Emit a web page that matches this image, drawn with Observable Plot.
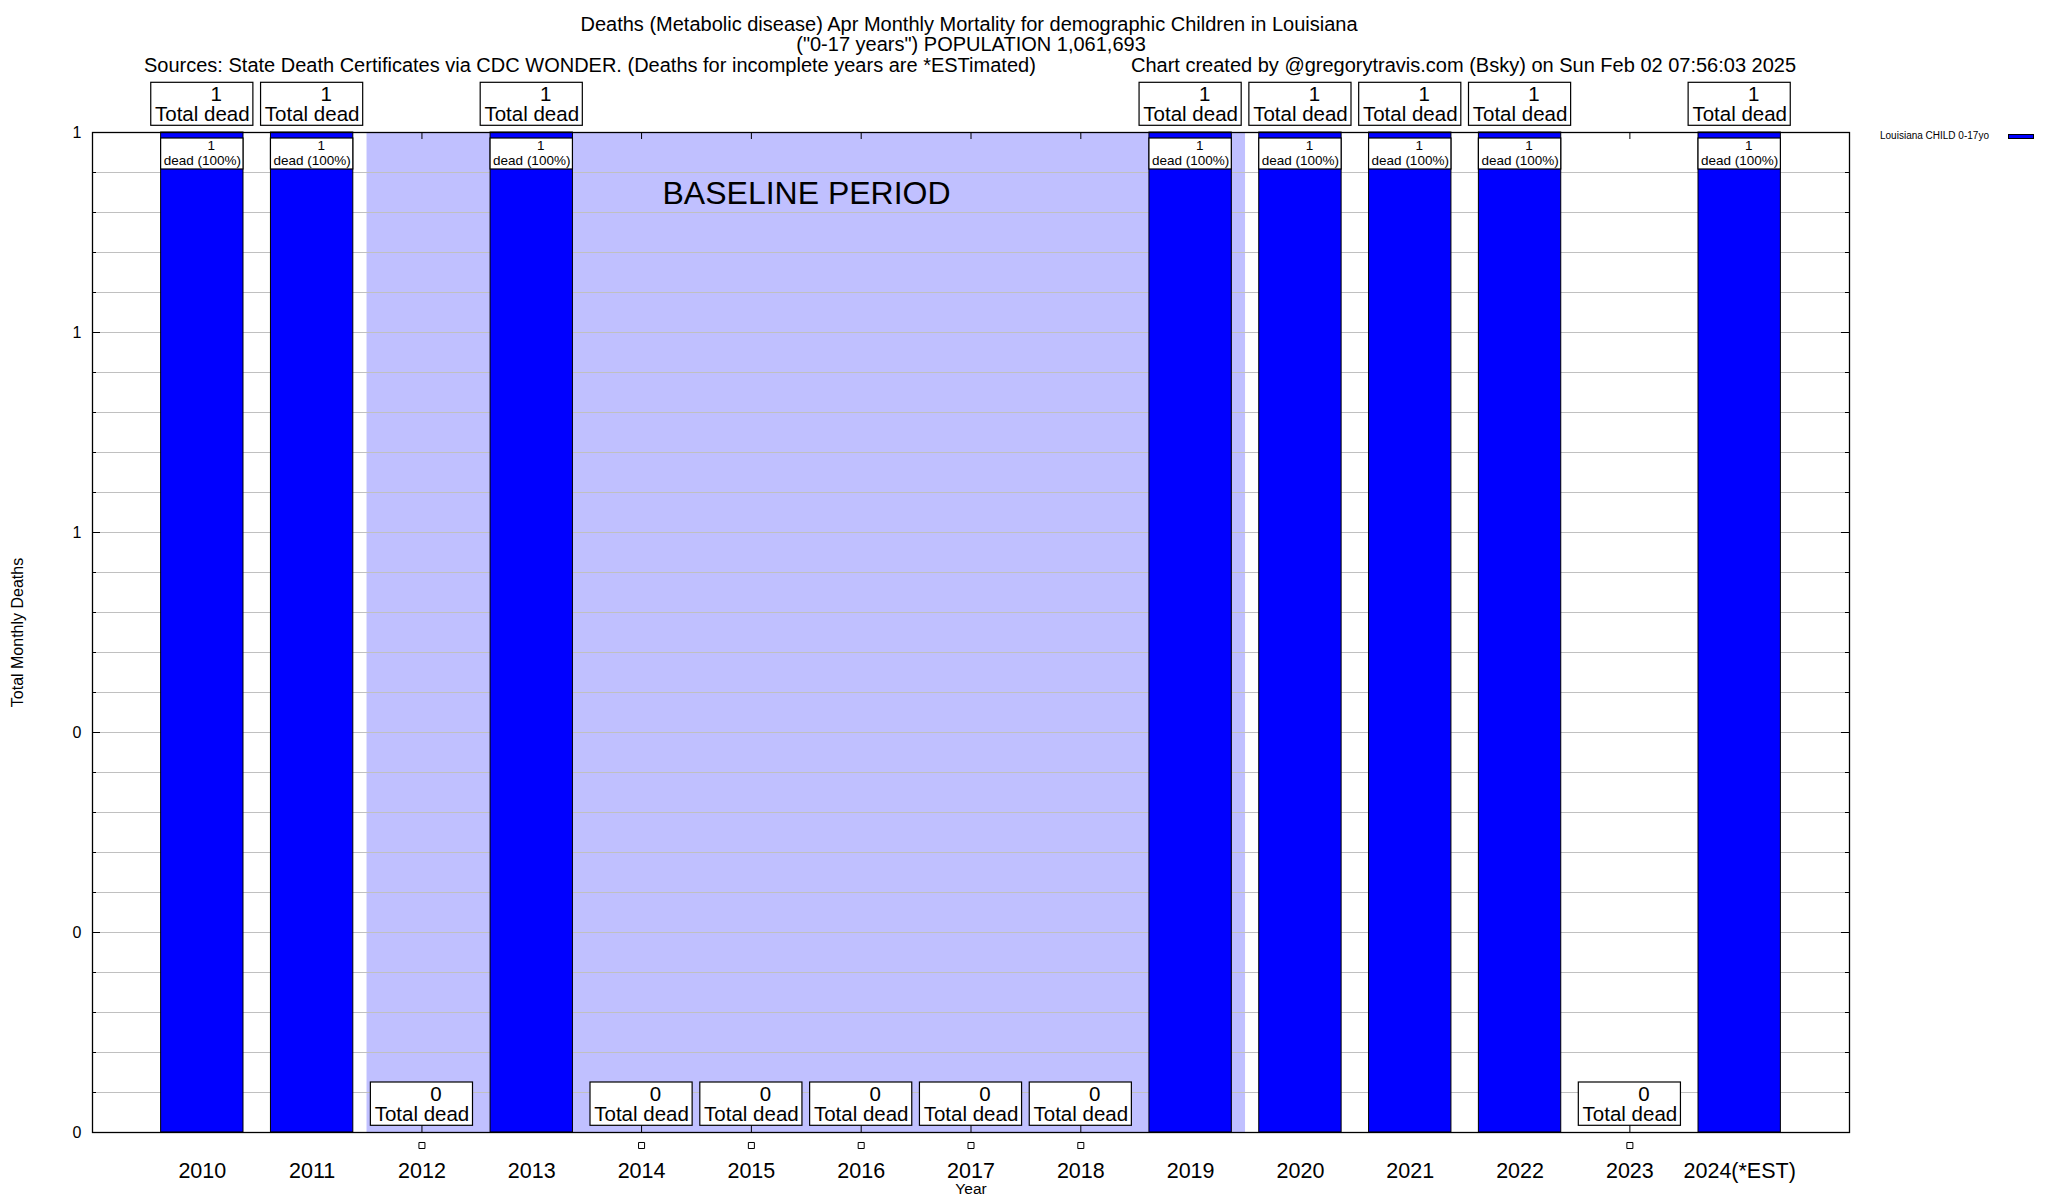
<!DOCTYPE html>
<html><head><meta charset="utf-8">
<script src="https://cdn.jsdelivr.net/npm/d3@7"></script>
<script src="https://cdn.jsdelivr.net/npm/@observablehq/plot@0.6"></script>
<style>
body{margin:0;background:#fff;}
#wrap{position:relative;width:2048px;height:1200px;font-family:"Liberation Sans",Arial,Helvetica,sans-serif;color:#000;overflow:hidden;}
#wrap svg{position:absolute;left:0;top:0;}
.t{position:absolute;white-space:nowrap;line-height:1;}
</style></head><body><div id="wrap"></div>
<script>
const years = [2010,2011,2012,2013,2014,2015,2016,2017,2018,2019,2020,2021,2022,2023,2024];
const xLabels = ["2010","2011","2012","2013","2014","2015","2016","2017","2018","2019","2020","2021","2022","2023","2024(*EST)"];
const deaths = [1,1,0,1,0,0,0,0,0,1,1,1,1,0,1];
const shares = [100,100,0,100,0,0,0,0,0,100,100,100,100,0,100];
const yTicks = [0,0.2,0.4,0.6,0.8,1];
const yGrid = [0.04,0.08,0.12,0.16,0.2,0.24,0.28,0.32,0.36,0.4,0.44,0.48,0.52,0.56,0.6,0.64,0.68,0.72,0.76,0.8,0.84,0.88,0.92,0.96];
const yMinor = [0.04,0.08,0.12,0.16,0.24,0.28,0.32,0.36,0.44,0.48,0.52,0.56,0.64,0.68,0.72,0.76,0.84,0.88,0.92,0.96];
const baselineRange = [2011.5, 2019.5];
const xDomain = [2009, 2025];

const data = years.map((year, i) => ({year, label: xLabels[i], v: deaths[i], share: shares[i]}));
const ones = data.filter(d => d.v > 0);
const zeros = data.filter(d => d.v === 0);

const W = 2048, Hs = 1200, mL = 92, mR = 199, mT = 132, mB = 68;
const H = Hs - mT - mB, FW = W - mL - mR;
const font = '"Liberation Sans", Arial, Helvetica, sans-serif';
const hw = 0.375, bw = 0.465;

const plot = Plot.plot({
  width: W, height: Hs,
  marginLeft: mL, marginRight: mR, marginTop: mT, marginBottom: mB,
  style: {fontFamily: font, background: "transparent", overflow: "visible"},
  x: {domain: xDomain, axis: null},
  y: {domain: [0, 1], axis: null},
  marks: [
    Plot.rect([baselineRange], {x1: d => d[0], x2: d => d[1], fill: "#c0c0ff"}),
    Plot.ruleY(yGrid, {y: d => d, stroke: "#c0c0c0", strokeWidth: 1}),
    // inward y ticks (left + mirrored right)
    Plot.ruleY(yTicks, {y: d => d, stroke: "#000", insetRight: FW - 8}),
    Plot.ruleY(yTicks, {y: d => d, stroke: "#000", insetLeft: FW - 8}),
    Plot.ruleY(yMinor, {y: d => d, stroke: "#000", insetRight: FW - 4}),
    Plot.ruleY(yMinor, {y: d => d, stroke: "#000", insetLeft: FW - 4}),
    // inward x ticks (bottom + mirrored top)
    Plot.ruleX(data, {x: "year", stroke: "#000", insetTop: H - 7}),
    Plot.ruleX(data, {x: "year", stroke: "#000", insetBottom: H - 7}),
    // bars
    Plot.rect(ones, {x1: d => d.year - hw, x2: d => d.year + hw, y1: 0, y2: "v", fill: "#0000ff", stroke: "#000", strokeWidth: 1}),
    // inner value boxes
    Plot.rect(ones, {x1: d => d.year - hw, x2: d => d.year + hw, fill: "#fff", stroke: "#000", strokeWidth: 1.2, insetTop: 6, insetBottom: H - 37}),
    Plot.text(ones, {x: "year", y: "v", text: d => String(d.v), dx: 9, dy: 17.7, lineAnchor: "bottom", fontSize: 13.5}),
    Plot.text(ones, {x: "year", y: "v", text: d => `dead (${d.share}%)`, dy: 32, lineAnchor: "bottom", fontSize: 13.5}),
    // top total boxes
    Plot.rect(ones, {x1: d => d.year - bw, x2: d => d.year + bw, fill: "#fff", stroke: "#000", strokeWidth: 1.2, insetTop: -49.7, insetBottom: H + 6.7}),
    Plot.text(ones, {x: "year", y: "v", text: d => String(d.v), dx: 14, dy: -32, lineAnchor: "bottom", fontSize: 20.5}),
    Plot.text(ones, {x: "year", y: "v", text: () => "Total dead", dy: -12, lineAnchor: "bottom", fontSize: 20.5}),
    // zero total boxes
    Plot.rect(zeros, {x1: d => d.year - bw, x2: d => d.year + bw, fill: "#fff", stroke: "#000", strokeWidth: 1.2, insetTop: H - 50, insetBottom: 6.7}),
    Plot.text(zeros, {x: "year", y: "v", text: d => String(d.v), dx: 14, dy: -31.6, lineAnchor: "bottom", fontSize: 20.5}),
    Plot.text(zeros, {x: "year", y: "v", text: () => "Total dead", dy: -11.3, lineAnchor: "bottom", fontSize: 20.5}),
    Plot.dot(zeros, {x: "year", y: "v", symbol: "square", r: 3.4, stroke: "#000", fill: "#fff", strokeWidth: 1, dy: 13}),
    // baseline label
    Plot.text(["BASELINE PERIOD"], {frameAnchor: "top-left", text: d => d, dx: 570, dy: 71, lineAnchor: "bottom", textAnchor: "start", fontSize: 32}),
    // x tick labels
    Plot.text(data, {x: "year", y: 0, text: "label", dy: 45, lineAnchor: "bottom", fontSize: 21.5}),
    // y tick labels
    Plot.text(yTicks, {y: d => d, frameAnchor: "left", text: d => d3.format(".0f")(d), dx: -11, textAnchor: "end", lineAnchor: "middle", fontSize: 16}),
    // axis titles
    Plot.text(["Year"], {frameAnchor: "bottom", text: d => d, dy: 61, lineAnchor: "bottom", textAnchor: "middle", fontSize: 15.5}),
    Plot.text(["Total Monthly Deaths"], {frameAnchor: "left", text: d => d, dx: -75, rotate: -90, textAnchor: "middle", lineAnchor: "middle", fontSize: 16}),
    Plot.frame({stroke: "#000", strokeWidth: 1.3})
  ]
});

const wrap = document.getElementById("wrap");
wrap.appendChild(plot);

function addText(txt, css) {
  const d = document.createElement("div");
  d.className = "t";
  d.textContent = txt;
  Object.assign(d.style, css);
  wrap.appendChild(d);
  return d;
}
addText("Deaths (Metabolic disease) Apr Monthly Mortality for demographic Children in Louisiana", {left: "969px", top: "13.5px", fontSize: "20px", transform: "translateX(-50%)"});
addText("(\"0-17 years\") POPULATION 1,061,693", {left: "971px", top: "34.2px", fontSize: "20px", transform: "translateX(-50%)"});
addText("Sources: State Death Certificates via CDC WONDER. (Deaths for incomplete years are *ESTimated)", {left: "144px", top: "55px", fontSize: "20px"});
addText("Chart created by @gregorytravis.com (Bsky) on Sun Feb 02 07:56:03 2025", {left: "1131px", top: "55px", fontSize: "20px"});
addText("Louisiana CHILD 0-17yo", {left: "1880px", top: "131px", fontSize: "10px"});
const sw = document.createElement("div");
Object.assign(sw.style, {position: "absolute", left: "2008px", top: "133.5px", width: "24px", height: "3px", background: "#0000ff", border: "1px solid #000"});
wrap.appendChild(sw);
</script>
</body></html>
